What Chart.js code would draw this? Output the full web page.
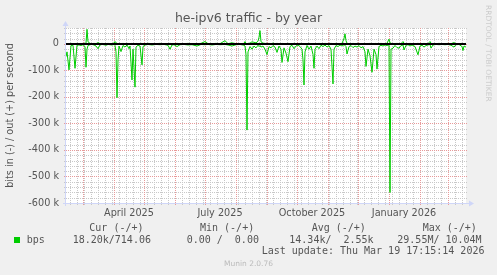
<!DOCTYPE html>
<html><head><meta charset="utf-8">
<script src="https://cdn.jsdelivr.net/npm/chart.js@4"></script>
<style>
html,body{margin:0;padding:0;background:#F0F0F0;}
#wrap{position:relative;width:497px;height:275px;overflow:hidden;background:#F0F0F0;}
canvas{position:absolute;left:0;top:0;}
.t{position:absolute;white-space:pre;color:#555;}
.sans{font-family:'DejaVu Sans',sans-serif;}
.mono{font-family:'DejaVu Sans Mono',monospace;font-size:10px;line-height:10px;}
</style></head><body>
<div id="wrap">
<canvas id="c" width="497" height="275"></canvas>
<div class="t sans" style="left:0;width:497px;text-align:center;top:11.9px;font-size:12.5px;line-height:12.5px;">he-ipv6 traffic - by year</div>
<div class="t sans" style="left:492px;top:5px;font-size:7.5px;line-height:7.5px;color:#cccccc;transform:rotate(90deg);transform-origin:0 0;">RRDTOOL / TOBI OETIKER</div>
<div class="t mono" style="left:89.3px;top:222.5px;">Cur (-/+)</div>
<div class="t mono" style="left:200px;top:222.5px;">Min (-/+)</div>
<div class="t mono" style="left:311.7px;top:222.5px;">Avg (-/+)</div>
<div class="t mono" style="left:422.7px;top:222.5px;">Max (-/+)</div>
<div style="position:absolute;left:14px;top:237px;width:6px;height:6px;background:#00CC00;"></div>
<div class="t mono" style="left:26.7px;top:234.5px;">bps</div>
<div class="t mono" style="left:72.7px;top:234.5px;">18.20k/714.06</div>
<div class="t mono" style="left:186.7px;top:234.5px;">0.00 /  0.00</div>
<div class="t mono" style="left:289.3px;top:234.5px;">14.34k/  2.55k</div>
<div class="t mono" style="left:397.3px;top:234.5px;">29.55M/ 10.04M</div>
<div class="t mono" style="left:261.7px;top:245.5px;">Last update: Thu Mar 19 17:15:14 2026</div>
<div class="t sans" style="left:0;width:497px;text-align:center;top:260.2px;font-size:7.5px;line-height:7.5px;color:#bbbbbb;">Munin 2.0.76</div>
</div>
<script>
// Days since 2025-02-12 (start of the 400-day window)
const days = [
  0,1,3,5,7,9,11,13,15,17,
  19,20,21,22,24,26,28,30,32,34,
  36,38,40,42,44,46,48,49,50,51,
  52,53,55,57,59,61,63,64,66,67,
  69,70,72,74,76,77,79,82,86,90,
  94,98,102,104,106,108,111,114,118,122,
  126,131,135,139,142,146,150,154,159,162,
  166,170,174,178,179,180,181,182,184,186,
  188,190,192,193,194,195,197,199,201,203,
  205,207,209,211,213,215,216,218,220,222,
  224,226,228,230,232,234,236,237,238,239,
  241,243,245,247,248,249,251,253,255,257,
  259,261,263,265,267,268,270,272,274,276,
  278,279,280,281,283,285,287,289,291,293,
  295,297,299,300,302,304,306,308,310,311,
  313,315,317,319,321,323,324,325,327,329,
  331,333,335,337,338,340,342,344,346,349,
  352,354,356,358,360,362,364,365,367,370,
  373,376,379,382,385,388,390,393,396,397,
  398,400
];
// bits in, plotted negative (kbit/s)
const inKbps = [
  -48,-30,-98,-6,-5,-92,-5,-4,-6,-3,
  -10,-88,-20,-6,-3,-2,-4,-8,-18,-4,
  -2,-3,-5,-2,-3,-4,-2,-6,-30,-203,
  -60,-8,-29,-6,-12,-4,-18,-8,-136,-20,
  -163,-12,-5,-8,-79,-10,-4,-2,-4,-2,
  -3,-2,-5,-20,-4,-3,-10,-3,-2,-4,
  -3,-8,-2,-3,-2,-4,-2,-3,-2,-4,
  -8,-3,-2,-5,-8,-40,-325,-30,-10,-20,
  -8,-15,-5,-10,-6,-12,-8,-20,-40,-10,
  -15,-6,-12,-32,-8,-20,-70,-15,-35,-67,
  -10,-5,-18,-8,-4,-10,-20,-60,-155,-30,
  -6,-20,-8,-40,-92,-20,-8,-18,-5,-10,
  -4,-12,-6,-20,-151,-20,-6,-10,-4,-8,
  -3,-5,-10,-38,-10,-6,-14,-8,-12,-6,
  -15,-10,-30,-85,-20,-45,-107,-20,-40,-95,
  -10,-5,-8,-4,-6,-3,-560,-20,-16,-6,
  -14,-16,-6,-4,-23,-5,-3,-8,-4,-10,
  -41,-8,-5,-12,-6,-4,-2,-16,-4,-2,
  -3,-2,-3,-2,-5,-12,-3,-2,-10,-25,
  -8,-12
];
// bits out, plotted positive (kbit/s)
const outKbps = [
  2,1,1,2,1,1,2,1,1,2,
  1,3,55,8,2,1,2,1,5,1,
  2,1,1,2,1,1,3,9,4,2,
  1,2,1,2,1,2,1,1,2,1,
  1,2,1,1,2,1,1,2,1,1,
  2,1,1,2,1,1,2,1,1,2,
  1,1,2,9,1,1,2,1,12,1,
  4,1,1,2,9,2,1,2,3,8,
  6,4,10,25,50,8,3,2,1,2,
  1,3,1,2,1,1,2,1,1,2,
  1,1,2,1,1,2,1,1,2,1,
  1,2,1,1,2,1,1,2,1,1,
  2,1,1,2,1,1,2,1,1,2,
  20,38,12,2,1,1,2,1,1,2,
  1,1,2,1,1,2,1,1,2,1,
  1,2,1,1,2,18,4,2,1,1,
  2,1,1,9,2,1,1,2,1,1,
  2,1,1,2,1,1,9,2,1,1,
  2,1,1,2,1,5,1,1,2,1,
  1,2
];
const yTickValues = [-600,-500,-400,-300,-200,-100,0];
const xTickMonths = ['2025-04','2025-07','2025-10','2026-01'];
const xTickLabels = ['April 2025','July 2025','October 2025','January 2026'];

const START = Date.UTC(2025,1,12);
const END_DAY = 400;
const Y_MIN = -600, Y_MAX = 60, Y_MINOR = 20, Y_MAJOR = 100;
const dayOf = (y,m,d) => (Date.UTC(y,m,d) - START) / 864e5;
const xLabelDays = xTickMonths.map(s => { const [y,m] = s.split('-').map(Number); return dayOf(y,m-1,1) + 15; });

// month starts and weekly (Sunday) minor lines
const monthDays = [];
for (let y = 2025, m = 2; ; m++) { if (m > 11) { m = 0; y++; } const d = dayOf(y,m,1); if (d > END_DAY) break; monthDays.push(d); }
const weekDays = [];
for (let d = dayOf(2025,1,16); d <= END_DAY; d += 7) weekDays.push(d);

const AXIS = '#CFD6F8', MINOR = '#C8C8C8', MAJOR = '#E89A9A', GREEN = '#00CC00';

const rrdPlugin = {
  id: 'rrd',
  beforeDraw(chart) {
    const {ctx, chartArea: a} = chart;
    ctx.save();
    ctx.fillStyle = '#FFFFFF';
    ctx.fillRect(a.left, a.top, a.right - a.left, a.bottom - a.top);
    ctx.restore();
  },
  beforeDatasetsDraw(chart) {
    const {ctx, chartArea: a, scales: {x, y}} = chart;
    ctx.save();
    ctx.lineWidth = 1;
    ctx.setLineDash([1,1]);
    const hline = (v, col) => {
      const py = Math.round(y.getPixelForValue(v)) + 0.5;
      ctx.strokeStyle = col; ctx.beginPath(); ctx.moveTo(a.left - 2, py); ctx.lineTo(a.right + 2, py); ctx.stroke();
    };
    const vline = (d, col) => {
      const px = Math.round(x.getPixelForValue(d)) + 0.5;
      ctx.strokeStyle = col; ctx.beginPath(); ctx.moveTo(px, a.bottom + 2); ctx.lineTo(px, a.top); ctx.stroke();
    };
    for (let v = Y_MIN; v <= Y_MAX; v += Y_MINOR) if (v % Y_MAJOR !== 0) hline(v, MINOR);
    weekDays.forEach(d => { if (!monthDays.includes(d)) vline(d, MINOR); });
    for (let v = Y_MIN; v <= Y_MAX; v += Y_MAJOR) hline(v, MAJOR);
    monthDays.forEach(d => vline(d, MAJOR));
    ctx.restore();
  },
  afterDatasetsDraw(chart) {
    const {ctx, chartArea: a, scales: {y}} = chart;
    ctx.save();
    // zero rule
    const p0 = Math.round(y.getPixelForValue(0));
    ctx.fillStyle = '#000000';
    ctx.fillRect(a.left, p0 - 1, a.right - a.left, 2);
    // axes
    ctx.fillStyle = AXIS;
    ctx.fillRect(a.left - 1, a.top - 2, 1, a.bottom - a.top + 5);
    ctx.fillRect(a.left - 3, a.bottom, a.right - a.left + 6, 1);
    ctx.beginPath();
    ctx.moveTo(a.left - 3.5, a.top - 2); ctx.lineTo(a.left + 2.5, a.top - 2); ctx.lineTo(a.left - 0.5, a.top - 7); ctx.closePath(); ctx.fill();
    ctx.beginPath();
    ctx.moveTo(a.right + 3, a.bottom - 2.5); ctx.lineTo(a.right + 3, a.bottom + 3.5); ctx.lineTo(a.right + 8, a.bottom + 0.5); ctx.closePath(); ctx.fill();
    ctx.restore();
  }
};

const series = vals => days.map((d, i) => ({x: d, y: vals[i]}));
Chart.defaults.font.family = "'DejaVu Sans', sans-serif";

new Chart(document.getElementById('c'), {
  type: 'line',
  data: {
    datasets: [
      {label: 'in', data: series(inKbps), borderColor: GREEN, borderWidth: 1, pointRadius: 0, tension: 0, fill: false},
      {label: 'out', data: series(outKbps), borderColor: GREEN, borderWidth: 1, pointRadius: 0, tension: 0, fill: false}
    ]
  },
  options: {
    responsive: false,
    animation: false,
    devicePixelRatio: 1,
    layout: {padding: {left: 0, right: 31, top: 28, bottom: 0}},
    plugins: {legend: {display: false}, tooltip: {enabled: false}, title: {display: false}},
    scales: {
      x: {
        type: 'linear', min: 0, max: END_DAY,
        grid: {display: false, drawTicks: false}, border: {display: false},
        afterBuildTicks: s => { s.ticks = xLabelDays.map(v => ({value: v})); },
        afterFit: s => { s.height = 72; },
        ticks: {autoSkip: false, maxRotation: 0, minRotation: 0, padding: 5, color: '#555', font: {size: 9.7},
          callback: (v, i) => xTickLabels[i]}
      },
      y: {
        min: Y_MIN, max: Y_MAX,
        grid: {display: false, drawTicks: false}, border: {display: false},
        afterBuildTicks: s => { s.ticks = yTickValues.map(v => ({value: v})); },
        afterFit: s => { s.width = 66; },
        ticks: {padding: 7, color: '#555', font: {size: 9.7}, callback: v => v === 0 ? '0' : v + ' k'},
        title: {display: true, text: 'bits in (-) / out (+) per second', color: '#555', font: {size: 9.7}, padding: {top: 5, bottom: 0}}
      }
    }
  },
  plugins: [rrdPlugin]
});
</script>
</body></html>
